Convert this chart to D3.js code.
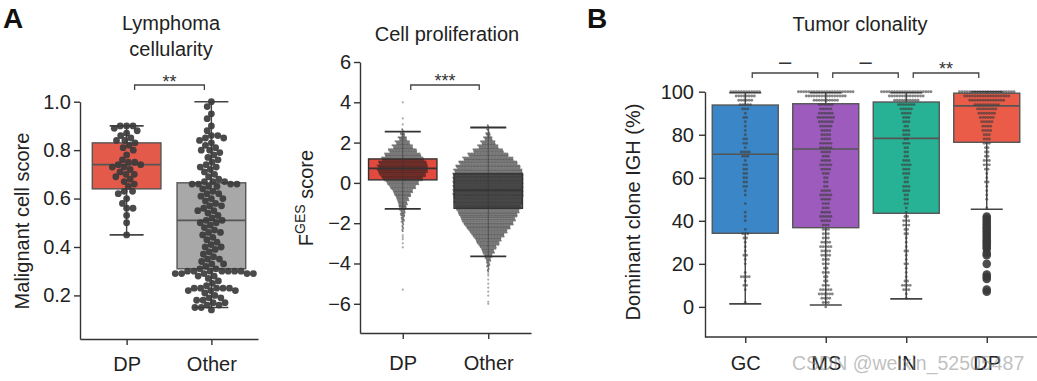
<!DOCTYPE html>
<html><head><meta charset="utf-8">
<script src="https://cdn.jsdelivr.net/npm/d3@7"></script>
<style>
body{margin:0;background:#fff}
svg{display:block}
text{font-family:"Liberation Sans",Arial,Helvetica,sans-serif}
</style>
</head><body>
<svg id="c" width="1037" height="381"></svg>
<script>
// ---------------- DATA ----------------
// Panel A1: Lymphoma cellularity
const cellCategories = ["DP", "Other"];
const cellTicks = [0.2, 0.4, 0.6, 0.8, 1.0];
const cellDP = [0.90,0.90,0.90,0.89,0.88,0.87,0.86,0.85,0.84,0.84,0.83,0.82,0.81,0.80,0.78,0.76,0.75,0.75,0.74,0.74,0.73,0.73,0.72,0.71,0.70,0.70,0.69,0.68,0.67,0.66,0.65,0.63,0.63,0.62,0.60,0.58,0.56,0.56,0.53,0.50,0.45];
const cellOther = [1.00,0.98,0.95,0.93,0.90,0.88,0.86,0.86,0.85,0.85,0.84,0.83,0.82,0.81,0.80,0.80,0.79,0.78,0.77,0.76,0.75,0.74,0.73,0.73,0.72,0.71,0.70,0.69,0.68,0.67,0.67,0.67,0.66,0.66,0.66,0.66,0.65,0.65,0.64,0.63,0.62,0.62,0.61,0.60,0.60,0.59,0.58,0.57,0.57,0.56,0.55,0.55,0.54,0.53,0.52,0.51,0.51,0.50,0.50,0.49,0.48,0.47,0.46,0.46,0.45,0.44,0.43,0.42,0.41,0.40,0.40,0.39,0.38,0.37,0.36,0.35,0.35,0.34,0.33,0.33,0.32,0.31,0.31,0.30,0.30,0.30,0.30,0.30,0.30,0.30,0.29,0.29,0.29,0.29,0.29,0.28,0.28,0.27,0.26,0.25,0.24,0.23,0.23,0.23,0.23,0.23,0.22,0.22,0.22,0.21,0.20,0.19,0.19,0.18,0.18,0.17,0.17,0.16,0.16,0.15,0.15,0.14];
const cellStats = [
  {lo:0.45, q1:0.64, med:0.74, q3:0.83, hi:0.90},
  {lo:0.15, q1:0.31, med:0.51, q3:0.665, hi:1.00}
];

// Panel A2: Cell proliferation (points per 0.2 bin)
const profCategories = ["DP", "Other"];
const profTicks = [-6, -4, -2, 0, 2, 4, 6];
const profBins = [-4.4,-4.2,-4.0,-3.8,-3.6,-3.4,-3.2,-3.0,-2.8,-2.6,-2.4,-2.2,-2.0,-1.8,-1.6,-1.4,-1.2,-1.0,-0.8,-0.6,-0.4,-0.2,0,0.2,0.4,0.6,0.8,1.0,1.2,1.4,1.6,1.8,2.0,2.2,2.4,2.6,2.8];
const profDPCounts = [0,0,0,0,0,0,0,0,0,0,2,3,4,6,8,10,14,18,24,32,40,52,64,80,92,100,100,96,84,72,56,40,28,16,8,2,0];
const profOtherCounts = [2,4,6,10,16,24,32,44,52,64,76,88,100,108,116,124,132,136,136,140,140,140,140,140,140,136,128,116,100,80,60,40,28,16,8,4,2];
const profDPSparse = [-5.3,-3.2,-3.0,-2.8,-2.7,-2.6,2.9,3.2,4.0];
const profOtherSparse = [-6.0,-5.9,-5.6,-5.4,-5.2,-5.0,-4.8,-4.6,-4.5,-4.3,-4.1];
const profStats = [
  {lo:-1.29, q1:0.15, med:0.72, q3:1.19, hi:2.54},
  {lo:-3.65, q1:-1.26, med:-0.35, q3:0.45, hi:2.75}
];

// Panel B: Tumor clonality (points per 2% bin)
const clonCategories = ["GC", "MS", "IN", "DP"];
const clonTicks = [0, 20, 40, 60, 80, 100];
const clonBins = [0,2,4,6,8,10,12,14,16,18,20,22,24,26,28,30,32,34,36,38,40,42,44,46,48,50,52,54,56,58,60,62,64,66,68,70,72,74,76,78,80,82,84,86,88,90,92,94,96,98,100];
const clonGC = [0,1,0,0,1,2,1,4,1,0,1,1,2,1,1,1,2,3,1,0,1,1,1,0,1,0,1,1,2,2,2,2,2,2,1,3,4,1,2,2,1,1,1,1,2,1,3,5,6,8,12];
const clonMS = [1,3,4,6,5,3,2,2,3,2,3,3,4,4,5,4,3,3,3,3,4,5,4,3,3,4,5,4,2,2,2,3,4,5,4,3,4,5,5,4,4,4,5,6,7,6,5,6,10,16,22];
const clonIN = [0,0,1,1,3,4,2,1,1,1,2,1,1,2,1,1,1,2,2,3,3,2,1,1,2,2,2,3,3,2,2,3,3,4,3,2,2,2,3,2,3,3,2,3,3,4,5,7,10,14,20];
const clonDP = [0,0,0,0,0,0,0,0,0,0,0,0,0,0,0,0,0,0,0,0,0,0,0,1,0,1,1,1,1,2,1,1,2,3,3,2,2,2,3,3,3,4,4,5,6,7,8,10,14,18,22];
const clonDPOutliers = [42,41,40,39,38,37,36,35,34,33,32,31,30,29,28,27,25,24,20,15,14,13,8,7];
const clonStats = [
  {lo:1.4, q1:34.2, med:70.9, q3:93.8, hi:99.5},
  {lo:0.9, q1:36.8, med:73.4, q3:94.4, hi:99.5},
  {lo:3.7, q1:43.5, med:78.3, q3:95.2, hi:99.5},
  {lo:45.4, q1:76.5, med:93.4, q3:99.3, hi:100}
];

// ---------------- DRAWING ----------------
const svg = d3.select("#c");
const ink = "#333";
const font = 20;

function styleAxis(g){
  g.selectAll("path,line").attr("stroke", ink).attr("stroke-width", 1.4);
  g.selectAll("text").attr("fill", "#222").style("font-size", font + "px");
}

function drawBox(g, cx, w, s, y, fill, cap){
  g.append("line").attr("x1",cx).attr("x2",cx).attr("y1",y(s.lo)).attr("y2",y(s.q1)).attr("stroke","#444").attr("stroke-width",1.4);
  g.append("line").attr("x1",cx).attr("x2",cx).attr("y1",y(s.q3)).attr("y2",y(s.hi)).attr("stroke","#444").attr("stroke-width",1.4);
  g.append("line").attr("x1",cx-cap/2).attr("x2",cx+cap/2).attr("y1",y(s.lo)).attr("y2",y(s.lo)).attr("stroke","#444").attr("stroke-width",1.6);
  g.append("line").attr("x1",cx-cap/2).attr("x2",cx+cap/2).attr("y1",y(s.hi)).attr("y2",y(s.hi)).attr("stroke","#444").attr("stroke-width",1.6);
  g.append("rect").attr("x",cx-w/2).attr("width",w).attr("y",y(s.q3)).attr("height",y(s.q1)-y(s.q3))
    .attr("fill",fill).attr("stroke","#555").attr("stroke-width",1.4);
  g.append("line").attr("x1",cx-w/2).attr("x2",cx+w/2).attr("y1",y(s.med)).attr("y2",y(s.med)).attr("stroke","#555").attr("stroke-width",1.6);
}

function bracket(x1, x2, yb, label, ly, fs){
  svg.append("path").attr("d", `M${x1},${yb+5}V${yb}H${x2}V${yb+5}`).attr("fill","none").attr("stroke","#444").attr("stroke-width",1.3);
  svg.append("text").attr("x",(x1+x2)/2).attr("y",ly).attr("text-anchor","middle").style("font-size",fs+"px").attr("fill","#333").text(label);
}

function beeswarm(values, y, r){
  const pts = values.map(v => ({v, y:y(v)})).sort((a,b)=>a.y-b.y);
  const placed = [];
  for (const p of pts){
    const iv = [];
    for (const q of placed){
      const dy = Math.abs(p.y-q.y);
      if (dy < 2*r){ const dx = Math.sqrt(4*r*r-dy*dy); iv.push([q.x-dx, q.x+dx]); }
    }
    const cands = [0]; iv.forEach(i=>cands.push(i[0], i[1]));
    cands.sort((a,b)=>Math.abs(a)-Math.abs(b));
    for (const c of cands){ if (iv.every(i => c <= i[0]+1e-6 || c >= i[1]-1e-6)){ p.x = c; break; } }
    placed.push(p);
  }
  return placed;
}

// Panel labels
svg.append("text").attr("x",3).attr("y",28).style("font-size","28px").style("font-weight","bold").attr("fill","#111").text("A");
svg.append("text").attr("x",587).attr("y",28).style("font-size","28px").style("font-weight","bold").attr("fill","#111").text("B");

// ===== Panel A1 =====
{
  const y = d3.scaleLinear().domain([0.02, 1.0]).range([339, 101.7]);
  const x = d3.scalePoint().domain(cellCategories).range([80, 258]).padding(0.55);
  const g = svg.append("g");
  g.append("g").attr("transform","translate(80,0)")
    .call(d3.axisLeft(y).tickValues(cellTicks).tickFormat(d3.format(".1f")).tickSize(6).tickPadding(3).tickSizeOuter(0)).call(styleAxis);
  g.append("g").attr("transform","translate(0,339)")
    .call(d3.axisBottom(x).tickSize(6).tickPadding(12).tickSizeOuter(0)).call(styleAxis);
  const fills = ["#e35a4a", "#a8a8a8"];
  const w = x.step()*0.81;
  cellCategories.forEach((c,i) => drawBox(g, x(c), w, cellStats[i], y, fills[i], 34));
  [cellDP, cellOther].forEach((vals,i) => {
    const pts = beeswarm(vals, y, 3.2);
    g.selectAll(null).data(pts).join("circle")
      .attr("cx", d => x(cellCategories[i]) + d.x).attr("cy", d => d.y).attr("r", 3.4)
      .attr("fill", "#3b3b3b").attr("fill-opacity", 0.92);
  });
  svg.append("text").attr("x",171).attr("y",30).attr("text-anchor","middle").style("font-size","20px").attr("fill","#222").text("Lymphoma");
  svg.append("text").attr("x",171).attr("y",56).attr("text-anchor","middle").style("font-size","20px").attr("fill","#222").text("cellularity");
  svg.append("text").attr("transform","translate(29,221) rotate(-90)").attr("text-anchor","middle").style("font-size","20px").attr("fill","#222").text("Malignant cell score");
  bracket(x("DP")+8, x("Other")-7, 85, "**", 88, 18);
}

// ===== Panel A2 =====
{
  const y = d3.scaleLinear().domain([-7.45, 6]).range([333, 62]);
  const x = d3.scalePoint().domain(profCategories).range([360, 531]).padding(0.5);
  const g = svg.append("g");
  g.append("g").attr("transform","translate(360,0)")
    .call(d3.axisLeft(y).tickValues(profTicks).tickSize(6).tickPadding(3).tickSizeOuter(0)).call(styleAxis);
  g.append("g").attr("transform","translate(0,333)")
    .call(d3.axisBottom(x).tickSize(6).tickPadding(17).tickSizeOuter(0)).call(styleAxis);
  const fills = ["#e34a3e", "#8a8a8a"];
  const w = x.step()*0.8;
  const bh = Math.abs(y(0.2)-y(0));
  const sub = 3, spacing = 1.5;
  profCategories.forEach((c,i) => {
    const cx = x(c);
    const s = profStats[i];
    g.append("rect").attr("x",cx-w/2).attr("width",w).attr("y",y(s.q3)).attr("height",y(s.q1)-y(s.q3)).attr("fill",fills[i]);
  });
  [profDPCounts, profOtherCounts].forEach((counts,i) => {
    const cx = x(profCategories[i]);
    const pts = [];
    counts.forEach((n,b) => {
      for (let k=0;k<n;k++){
        const row = k % sub, idx = Math.floor(k/sub);
        const m = Math.ceil((n-row)/sub);
        pts.push({x: cx + (idx-(m-1)/2)*spacing + (row-1)*spacing/3, y: y(profBins[b]) + (row-(sub-1)/2)*bh/sub});
      }
    });
    g.selectAll(null).data(pts).join("circle").attr("cx",d=>d.x).attr("cy",d=>d.y).attr("r",0.95)
      .attr("fill","#1c1c1c").attr("fill-opacity",0.55);
    const sp = [profDPSparse, profOtherSparse][i];
    g.selectAll(null).data(sp).join("circle").attr("cx",cx).attr("cy",d=>y(d)).attr("r",1.1)
      .attr("fill","#555").attr("fill-opacity",0.5);
  });
  profCategories.forEach((c,i) => {
    const cx = x(c), s = profStats[i];
    g.append("line").attr("x1",cx).attr("x2",cx).attr("y1",y(s.lo)).attr("y2",y(s.hi)).attr("stroke","#333").attr("stroke-width",1).attr("stroke-opacity",0.6);
    g.append("line").attr("x1",cx-18).attr("x2",cx+18).attr("y1",y(s.lo)).attr("y2",y(s.lo)).attr("stroke","#333").attr("stroke-width",1.8);
    g.append("line").attr("x1",cx-18).attr("x2",cx+18).attr("y1",y(s.hi)).attr("y2",y(s.hi)).attr("stroke","#333").attr("stroke-width",1.8);
    g.append("rect").attr("x",cx-w/2).attr("width",w).attr("y",y(s.q3)).attr("height",y(s.q1)-y(s.q3)).attr("fill","none").attr("stroke","#333").attr("stroke-width",1.4);
    g.append("line").attr("x1",cx-w/2).attr("x2",cx+w/2).attr("y1",y(s.med)).attr("y2",y(s.med)).attr("stroke","#333").attr("stroke-width",1.6);
  });
  svg.append("text").attr("x",447).attr("y",41).attr("text-anchor","middle").style("font-size","20px").attr("fill","#222").text("Cell proliferation");
  const t = svg.append("text").attr("transform","translate(313,198) rotate(-90)").attr("text-anchor","middle").style("font-size","20px").attr("fill","#222");
  t.append("tspan").text("F");
  t.append("tspan").attr("dy",-8).style("font-size","14px").text("GES");
  t.append("tspan").attr("dy",8).text(" score");
  bracket(x("DP")+8, x("Other")-9, 85, "***", 87, 18);
}

// ===== Panel B =====
{
  const y = d3.scaleLinear().domain([-14, 100]).range([337, 91.7]);
  const x = d3.scalePoint().domain(clonCategories).range([705, 1027]).padding(0.5);
  const g = svg.append("g");
  g.append("g").attr("transform","translate(705,0)")
    .call(d3.axisLeft(y).tickValues(clonTicks).tickSize(6).tickPadding(5).tickSizeOuter(0)).call(styleAxis);
  const xa = g.append("g").attr("transform","translate(0,337)")
    .call(d3.axisBottom(x).tickSize(6).tickPadding(13).tickSizeOuter(0)).call(styleAxis);
  xa.select(".domain").attr("d", `M${x.range()[0]},0H1037`);
  const fills = ["#3b86c6", "#9d5cbd", "#28b295", "#ea5b48"];
  const w = x.step()*0.82;
  clonCategories.forEach((c,i) => drawBox(g, x(c), w, clonStats[i], y, fills[i], 32));
  [clonGC, clonMS, clonIN, clonDP].forEach((counts,i) => {
    const cx = x(clonCategories[i]);
    const pts = [];
    counts.forEach((n,b) => {
      for (let k=0;k<n;k++) pts.push({x: cx + (k-(n-1)/2)*2.6, y: y(clonBins[b])});
    });
    g.selectAll(null).data(pts).join("circle").attr("cx",d=>d.x).attr("cy",d=>d.y).attr("r",1.45)
      .attr("fill","#3a3a3a").attr("fill-opacity",0.62);
  });
  g.selectAll(null).data(clonDPOutliers).join("circle").attr("cx",x("DP")).attr("cy",d=>y(d)).attr("r",4.3)
    .attr("fill","#3a3a3a").attr("fill-opacity",0.9);
  svg.append("text").attr("x",860).attr("y",31).attr("text-anchor","middle").style("font-size","20px").attr("fill","#222").text("Tumor clonality");
  svg.append("text").attr("transform","translate(640,212) rotate(-90)").attr("text-anchor","middle").style("font-size","20px").attr("fill","#222").text("Dominant clone IGH (%)");
  const pairs = [["GC","MS","–"],["MS","IN","–"],["IN","DP","**"]];
  pairs.forEach(p => {
    const x1 = x(p[0])+7, x2 = x(p[1])-8;
    if (p[2] === "**") bracket(x1, x2, 73, p[2], 75, 18);
    else bracket(x1, x2, 73, p[2], 69, 22);
  });
  // watermark (present in the reference image)
  svg.append("text").attr("x",792).attr("y",370).style("font-size","19.5px").attr("fill","#8a8a8a").attr("fill-opacity",0.55).text("CSDN @weixin_52505487");
}
</script>
</body></html>
